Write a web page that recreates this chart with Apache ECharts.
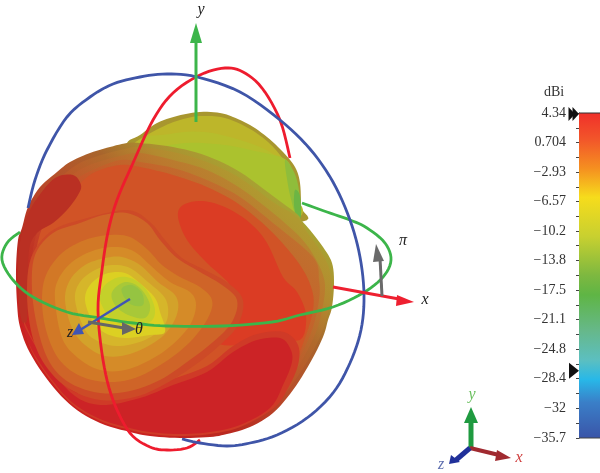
<!DOCTYPE html>
<html>
<head>
<meta charset="utf-8">
<style>html,body{margin:0;padding:0;background:#fff}#c{width:600px;height:473px}</style>
<script src="https://cdn.jsdelivr.net/npm/echarts@6/dist/echarts.min.js"></script>
</head>
<body>
<div id="c"></div>
<script>
// Colour bar
const barTop = 4.34, barBottom = -35.7;
const tickLabels = [4.34, 0.704, -2.93, -6.57, -10.2, -13.8, -17.5, -21.1, -24.8, -28.4, -32, -35.7];
const minorTicks = [2.52, -1.11, -4.75, -8.39, -12, -15.65, -19.3, -22.95, -26.6, -30.2, -33.85];
const barMarkers = [4.34, -27.3];
const barStops = [[0,'#f0302a'],[0.08,'#f2552a'],[0.17,'#f58f20'],[0.26,'#f6dc1c'],[0.38,'#c8d030'],[0.5,'#7db840'],[0.56,'#5fb545'],[0.67,'#66b88a'],[0.76,'#5cbfc0'],[0.82,'#28b8e8'],[0.89,'#3a7fc8'],[1,'#3a55a8']];

// Rings
const blueRing = [[28,208],[35,180],[47,150],[67,117],[90,97],[113,84],[140,77],[167,74],[197,77],[240,92],[280,120],[310,149],[333,182],[350,220],[360,257],[364,295],[361,330],[350,363],[333,393],[307,418],[277,435],[250,443],[227,446],[200,443],[182,439]];
const redRing = [[290,158],[280,120],[262,88],[243,72],[225,68],[200,75],[173,93],[153,120],[133,163],[117,200],[108,232],[102,270],[98,310],[103,360],[113,400],[130,433],[150,447],[167,450],[187,448],[200,440]];
const greenRing = [[302,203],[327,212],[350,220],[367,228],[385,243],[391,260],[383,277],[363,293],[333,307],[300,315],[272,322],[223,326],[167,326],[133,323],[100,318],[67,312],[33,297],[13,280],[2,260],[7,243],[20,232]];

// Upper lobe
const lobeOuter = [[127,143],[140,135],[157,123],[177,116],[200,112],[220,113],[233,117],[250,125],[267,137],[283,152],[295,167],[300,183],[301,207],[301,222],[200,225],[130,160]];
const lobeInner = [[133,144],[160,128],[180,120],[200,116],[225,118],[250,129],[268,142],[280,155],[290,170],[296,195],[296,218],[200,222],[135,150]];
const lobeSoft = [[140,146],[170,134],[205,132],[240,140],[270,152],[285,168],[294,195],[296,216],[200,215]];
const lobeLime = [[150,150],[185,143],[225,145],[255,151],[283,158],[292,170],[296,195],[298,216],[285,212],[260,190],[220,172],[170,158]];
const lobeGreen = [[285,160],[294,172],[299,190],[300,213],[296,216],[292,203],[288,185]];
const lobeDeepGreen = [[295,190],[300,196],[301,216],[297,218],[294,205]];

// Body levels
const bodyEdge = [[16,270],[18,240],[22,228],[28,207],[40,187],[57,172],[70,162],[90,153],[110,147],[127,143],[140,143],[173,147],[207,156],[240,172],[273,196],[297,214],[301,220],[310,230],[323,247],[332,263],[334,283],[332,307],[328,320],[323,337],[310,363],[293,390],[273,413],[250,427],[227,434],[210,437],[180,438],[150,436],[130,432],[100,423],[73,407],[50,383],[30,353],[20,327],[17,303]];
const bodyLevel1 = [[22,270],[25,232],[33,208],[45,192],[62,176],[78,164],[95,157],[120,150],[140,147],[173,152],[207,162],[240,178],[273,202],[297,217],[307,232],[320,250],[329,268],[331,285],[329,307],[322,332],[308,360],[290,387],[270,410],[248,424],[225,431],[200,434],[150,433],[100,420],[73,404],[50,380],[32,350],[24,325]];
const bodyLevel2 = [[26,270],[30,228],[45,200],[62,184],[78,171],[95,163],[120,156],[140,153],[173,160],[207,170],[240,188],[273,213],[300,237],[314,256],[323,275],[325,290],[322,310],[316,332],[302,360],[285,385],[266,406],[245,420],[200,430],[150,430],[100,416],[70,400],[50,376],[34,345],[27,310]];
const bodyLevel3 = [[30,270],[38,228],[50,205],[62,192],[78,178],[95,169],[120,160],[140,162],[173,168],[207,180],[240,197],[273,223],[313,257],[319,280],[319,300],[312,330],[298,360],[282,385],[263,405],[240,420],[200,428],[150,427],[100,413],[66,395],[46,370],[34,340],[30,305]];
const bodyLevel4 = [[33,270],[42,228],[60,200],[78,185],[95,172],[120,165],[140,167],[173,175],[207,187],[240,205],[273,233],[300,265],[312,290],[313,310],[306,335],[296,360],[280,385],[262,405],[240,420],[200,428],[150,425],[100,410],[60,375],[38,340],[33,305]];

// Patches on the body
const leftPatch = [[55,178],[73,175],[81,185],[78,195],[67,210],[53,223],[37,233],[29,250],[28,290],[27,320],[22,322],[19,303],[18,270],[20,242],[28,215],[38,197]];
const corePatch = [[178,217],[183,205],[203,201],[227,208],[250,223],[267,243],[283,277],[297,292],[306,315],[300,340],[270,335],[240,345],[215,340],[237,308],[230,285],[207,263],[187,240]];
const lowerMid = [[24,322],[36,345],[66,386],[100,398],[140,392],[173,379],[207,366],[233,346],[257,334],[284,332],[298,345],[298,365],[288,388],[274,408],[240,427],[210,434],[180,436],[150,434],[130,430],[100,421],[73,405],[52,382],[32,352]];
const lowerRed = [[22,322],[38,350],[70,392],[100,405],[140,398],[173,385],[207,372],[233,352],[257,340],[280,338],[290,348],[292,362],[283,385],[270,408],[240,425],[210,432],[180,434],[150,432],[130,428],[100,419],[73,403],[52,380],[32,350]];

// Contour rings around the minimum
const ring0 = [[27,295],[31,258],[50,232],[80,220],[127,210],[150,222],[165,240],[182,258],[205,270],[228,283],[243,300],[238,325],[220,345],[195,365],[165,384],[135,397],[100,400],[68,388],[45,365],[32,335]];
const ring1 = [[32,290],[35,255],[53,233],[80,223],[103,215],[127,213],[147,223],[160,240],[177,258],[200,272],[222,285],[237,300],[232,322],[213,342],[187,362],[160,380],[130,391],[100,393],[70,383],[50,363],[38,330]];
const ring2 = [[42,300],[46,275],[62,253],[85,240],[110,235],[130,237],[148,250],[162,265],[180,277],[200,287],[212,300],[208,318],[190,342],[165,362],[135,378],[105,382],[78,375],[58,358],[46,330]];
const ring3 = [[55,300],[58,280],[72,262],[95,250],[118,247],[135,252],[150,265],[170,282],[190,292],[196,305],[190,325],[172,345],[150,360],[125,370],[100,370],[78,358],[62,338]];
const ring4 = [[65,300],[70,280],[85,265],[105,258],[122,257],[140,265],[158,282],[175,295],[178,310],[170,328],[155,342],[130,354],[105,356],[85,345],[72,328]];
const ring5 = [[75,300],[80,282],[95,270],[112,265],[130,268],[148,282],[165,298],[168,315],[162,328],[145,340],[120,346],[100,342],[85,330]];
const ring6 = [[85,300],[90,285],[105,274],[125,273],[142,285],[155,298],[160,312],[165,332],[150,335],[125,338],[105,333],[92,320]];
const ring7 = [[100,300],[105,285],[120,277],[135,280],[148,292],[155,310],[150,322],[130,326],[112,320]];
const ring8 = [[112,292],[125,282],[140,288],[150,305],[145,318],[128,315],[115,305]];
const ring9 = [[122,288],[132,285],[142,293],[143,305],[132,305],[124,297]];

// Arrows
const arrowY = {shaft:[[196,122],[196,40]], head:[[196,23],[190,43],[202,43]]};
const arrowX = {shaft:[[333,287],[399,299]], head:[[414,302],[397,295],[396,306]]};
const arrowZ = {shaft:[[130,299],[80,330]], head:[[72,335],[79,323],[84,334]]};
const arrowTheta = {shaft:[[88,322],[124,328]], head:[[136,329],[122,322],[122,335]]};
const arrowPi = {shaft:[[382,296],[380,258]], head:[[376,244],[373,262],[384,261]]};
const triadY = {shaft:[[471,448],[471,420]], head:[[471,407],[464,423],[478,423]]};
const triadX = {shaft:[[470,448],[499,455]], head:[[511,458],[497,450],[495,461]]};
const triadZ = {shaft:[[470,448],[456,460]], head:[[449,464],[451,455],[460,462]]};

// Labels
const labelTexts = ['y','x','\u03C0','\u03B8','z','y','x','z'];
const labelPlaces = [[201,10],[425,300],[403,241],[139,330],[70,333],[472,395],[519,458],[441,465]];
const labelColors = ['#222','#222','#222','#222','#222','#6cc060','#d04040','#6070b0'];

// Draws a curve through pixel points (rendering only; the read values stay in the arrays above).
function curve(pts,closed){
  const n=pts.length,out=[];
  const at=i=>closed?pts[(i+n)%n]:pts[Math.max(0,Math.min(n-1,i))];
  const last=closed?n:n-1;
  for(let i=0;i<last;i++){
    const a=at(i-1),b=at(i),c=at(i+1),d=at(i+2);
    for(let k=0;k<6;k++){
      const t=k/6,t2=t*t,t3=t2*t;
      out.push([0,1].map(j=>0.5*(2*b[j]+(c[j]-a[j])*t+(2*a[j]-5*b[j]+4*c[j]-d[j])*t2+(3*b[j]-a[j]-3*c[j]+d[j])*t3)));
    }
  }
  if(!closed) out.push(pts[n-1]);
  return out;
}
function grad(a,b,c,d,e,f){
  return {type:'linear',x:0,y:1,x2:0.89,y2:-0.09,colorStops:[
    {offset:0.2,color:a},{offset:0.35,color:b},{offset:0.5,color:c},{offset:0.63,color:d},{offset:0.72,color:e},{offset:0.82,color:f}]};
}
const layers = [
  [lobeOuter,'#a8962f'],[lobeInner,'#bdb62a'],[lobeSoft,'#b6bd2c'],[lobeLime,'#abc22e'],[lobeGreen,'#8fbd3b'],[lobeDeepGreen,'#6cb544'],
  [bodyEdge,grad('#c82220','#b82a20','#b84d2a','#a8652c','#ab8f30','#a8a232')],
  [bodyLevel1,grad('#ca2320','#bc3024','#c05028','#b06a2c','#b38a2f','#b09a30')],
  [bodyLevel2,grad('#cb2320','#c03424','#c4502a','#b8682c','#bb782e','#b8852f')],
  [bodyLevel3,grad('#cc2322','#c43a26','#ca4e2a','#c2602a','#c3672c','#c0702e')],
  [bodyLevel4,'#d15326'],
  [leftPatch,'#ba3023'],[corePatch,'#db3c24'],[lowerMid,'#cf3a27'],[lowerRed,'#cc2326'],
  [ring0,'#cd4a27'],[ring1,'#cf6428'],[ring2,'#d27826'],[ring3,'#d58b28'],[ring4,'#d3a22a'],[ring5,'#d6b62a'],[ring6,'#dcd022'],[ring7,'#c4d02a'],[ring8,'#a8c838'],[ring9,'#95c442']
];
const rings = [[greenRing,'#3cb54a'],[redRing,'#ee1c2e'],[blueRing,'#3f55a8']];
const arrows = [
  [arrowY,'#3cb54a',3],[arrowX,'#ee2030',3],[arrowZ,'#3f55b5',2.5],[arrowTheta,'#666',3],[arrowPi,'#6a6a6a',3],
  [triadY,'#1f9a40',5],[triadX,'#a02a30',4],[triadZ,'#20309a',5]
];

const option = {
  animation:false,
  backgroundColor:'#fff',
  grid:[{left:0,top:0,width:600,height:473},{left:579,top:113,width:21,height:325}],
  xAxis:[{type:'value',min:0,max:600,show:false,gridIndex:0},{type:'value',min:0,max:1,show:false,gridIndex:1}],
  yAxis:[{type:'value',min:0,max:473,inverse:true,show:false,gridIndex:0},
    {type:'value',min:barBottom,max:barTop,gridIndex:1,position:'left',splitLine:{show:false},
     axisLine:{show:true,lineStyle:{color:'#444',width:1}},
     axisTick:{show:true,length:3,lineStyle:{color:'#444'},customValues:tickLabels.concat(minorTicks)},
     axisLabel:{show:true,margin:13,fontFamily:'Liberation Serif',fontSize:14,color:'#333',padding:[6,0,0,0],customValues:tickLabels,
       formatter:v=>String(v).replace('-','\u2212')}}],
  series:[
    {type:'custom',name:'blob',coordinateSystem:'cartesian2d',xAxisIndex:0,yAxisIndex:0,z:2,silent:true,clip:false,
     data:layers.map((l,i)=>[i]),
     renderItem:(p,api)=>{const l=layers[p.dataIndex];
       return {type:'polygon',shape:{points:curve(l[0].map(q=>api.coord(q)),true)},style:{fill:l[1]}};}},
    {type:'custom',name:'rings',coordinateSystem:'cartesian2d',xAxisIndex:0,yAxisIndex:0,z:3,silent:true,clip:false,
     data:rings.map((r,i)=>[i]),
     renderItem:(p,api)=>{const r=rings[p.dataIndex];
       return {type:'polyline',shape:{points:curve(r[0].map(q=>api.coord(q)),false)},style:{stroke:r[1],lineWidth:2.8,fill:null}};}},
    {type:'custom',name:'arrows',coordinateSystem:'cartesian2d',xAxisIndex:0,yAxisIndex:0,z:6,silent:true,clip:false,
     data:arrows.map((a,i)=>[i]),
     renderItem:(p,api)=>{const a=arrows[p.dataIndex];
       return {type:'group',children:[
         {type:'polyline',shape:{points:a[0].shaft.map(q=>api.coord(q))},style:{stroke:a[1],lineWidth:a[2],fill:null}},
         {type:'polygon',shape:{points:a[0].head.map(q=>api.coord(q))},style:{fill:a[1]}}]};}},
    {type:'custom',name:'labels',coordinateSystem:'cartesian2d',xAxisIndex:0,yAxisIndex:0,z:7,silent:true,clip:false,
     data:labelTexts.map((t,i)=>[i]),
     renderItem:(p,api)=>{const i=p.dataIndex,c=api.coord(labelPlaces[i]);
       return {type:'text',style:{text:labelTexts[i],x:c[0],y:c[1],fill:labelColors[i],align:'center',verticalAlign:'middle',
         font:'italic 16px "Liberation Serif"'}};}},
    {type:'custom',name:'colour bar',coordinateSystem:'cartesian2d',xAxisIndex:1,yAxisIndex:1,z:2,silent:true,clip:false,
     data:[[0,barTop]],
     renderItem:(p,api)=>{const a=api.coord([0,barTop]),b=api.coord([1,barBottom]);
       return {type:'group',children:[
         {type:'rect',shape:{x:a[0],y:a[1],width:b[0]-a[0],height:b[1]-a[1]},
          style:{fill:{type:'linear',x:0,y:0,x2:0,y2:1,colorStops:barStops.map(s=>({offset:s[0],color:s[1]}))}}},
         {type:'line',shape:{x1:a[0],y1:a[1],x2:b[0],y2:a[1]},style:{stroke:'#333',lineWidth:1}},
         {type:'line',shape:{x1:a[0],y1:b[1],x2:b[0],y2:b[1]},style:{stroke:'#444',lineWidth:1}}]};}},
    {type:'custom',name:'bar markers',coordinateSystem:'cartesian2d',xAxisIndex:1,yAxisIndex:1,z:5,silent:true,clip:false,
     data:barMarkers.map(v=>[0,v]),
     renderItem:(p,api)=>{const c=api.coord([0,api.value(1)]);
       const tri=(dx,w,h)=>({type:'polygon',shape:{points:[[c[0]+dx,c[1]+1],[c[0]+dx-w,c[1]+1-h],[c[0]+dx-w,c[1]+1+h]]},style:{fill:'#111'}});
       return {type:'group',children:p.dataIndex===0?[tri(-4,6.5,7),tri(0,6.5,7)]:[tri(0,10,8)]};}},
    {type:'custom',name:'unit',coordinateSystem:'cartesian2d',xAxisIndex:1,yAxisIndex:1,z:5,silent:true,clip:false,
     data:[[0,barTop]],
     renderItem:(p,api)=>{const c=api.coord([0,barTop]);
       return {type:'text',style:{text:'dBi',x:c[0]-25,y:c[1]-21,fill:'#333',align:'center',verticalAlign:'middle',font:'14px "Liberation Serif"'}};}}
  ]
};
echarts.init(document.getElementById('c'),null,{renderer:'canvas'}).setOption(option);
</script>
</body>
</html>
